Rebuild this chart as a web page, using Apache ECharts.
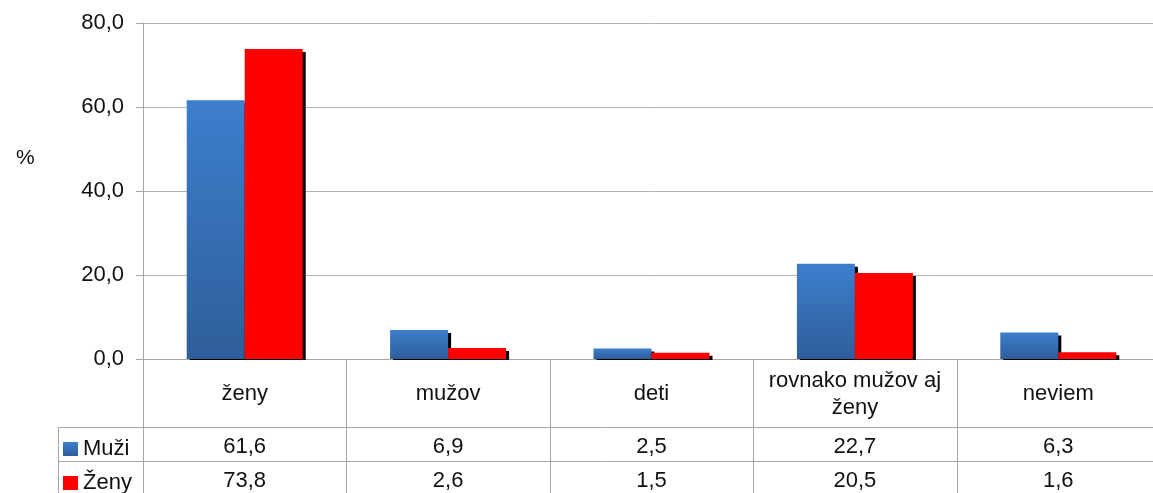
<!DOCTYPE html>
<html lang="sk">
<head>
<meta charset="UTF-8">
<title>Graf</title>
<script src="https://cdn.jsdelivr.net/npm/echarts@6/dist/echarts.min.js"></script>
<style>
  html, body { margin: 0; padding: 0; background: #fff; }
  #main { width: 1153px; height: 493px; }
</style>
</head>
<body>
<div id="main"></div>
<script>
// data
var categories = ['ženy', 'mužov', 'deti', 'rovnako mužov aj\nženy', 'neviem'];
var muzi = [61.6, 6.9, 2.5, 22.7, 6.3];
var zeny = [73.8, 2.6, 1.5, 20.5, 1.6];
var yTicks = [0, 20, 40, 60, 80];

function fmt(v) { return v.toFixed(1).replace('.', ','); }

var FONT = 'Liberation Sans';
var FS = 22;
var lineCol = '#a6a6a6';
var txt = '#111';

var blueGrad = new echarts.graphic.LinearGradient(0, 0, 0, 1, [
  { offset: 0, color: '#3d7ecd' },
  { offset: 1, color: '#2e5e9a' }
]);

function legendAt(name, top) {
  return {
    orient: 'vertical', left: 63, top: top, padding: 0,
    itemWidth: 15, itemHeight: 14, itemGap: 0,
    icon: 'rect',
    textStyle: { fontFamily: FONT, fontSize: FS, color: txt },
    data: [name]
  };
}

var option = {
  animation: false,
  textStyle: { fontFamily: FONT },
  title: {
    text: '%', left: 11, top: 143,
    textStyle: { fontFamily: FONT, fontSize: 21, fontWeight: 'normal', color: txt }
  },
  legend: [legendAt('Muži', 438), legendAt('Ženy', 472)],
  grid: { left: 143, width: 1017, top: 23, bottom: 134, outerBoundsMode: 'none', containLabel: false },
  xAxis: [
    {
      type: 'category', data: categories, position: 'bottom',
      axisLine: { lineStyle: { color: lineCol } },
      axisTick: { show: false },
      axisLabel: {
        margin: 35, verticalAlign: 'middle', fontSize: FS, lineHeight: 27,
        color: txt, fontFamily: FONT, interval: 0
      }
    },
    {
      type: 'category', data: muzi.map(fmt), position: 'bottom', offset: 68,
      axisLine: { show: false }, axisTick: { show: false },
      axisLabel: { margin: 20, verticalAlign: 'middle', fontSize: FS, color: txt, fontFamily: FONT, interval: 0 }
    },
    {
      type: 'category', data: zeny.map(fmt), position: 'bottom', offset: 102,
      axisLine: { show: false }, axisTick: { show: false },
      axisLabel: { margin: 20, verticalAlign: 'middle', fontSize: FS, color: txt, fontFamily: FONT, interval: 0 }
    }
  ],
  yAxis: {
    type: 'value', min: yTicks[0], max: yTicks[yTicks.length - 1], interval: 20,
    axisLine: { show: true, lineStyle: { color: lineCol } },
    axisTick: { show: true, length: 7, lineStyle: { color: lineCol } },
    axisLabel: { margin: 19, fontSize: FS, color: txt, fontFamily: FONT, formatter: fmt },
    splitLine: { lineStyle: { color: '#b3b3b3' } }
  },
  series: [
    {
      name: 'Muži', type: 'bar', data: muzi, barWidth: 58, barGap: '0%',
      itemStyle: { color: blueGrad, shadowColor: '#000', shadowOffsetX: 3, shadowOffsetY: 3, shadowBlur: 0 }
    },
    {
      name: 'Ženy', type: 'bar', data: zeny, barWidth: 58,
      itemStyle: { color: '#ff0000', shadowColor: '#000', shadowOffsetX: 3, shadowOffsetY: 3, shadowBlur: 0 }
    }
  ]
};

var myChart = echarts.init(document.getElementById('main'));
myChart.setOption(option);

// table lines: cover for bar shadows below the axis, row lines, column dividers
var g = [
  { type: 'rect', z: 100, shape: { x: 144, y: 360, width: 1010, height: 5 }, style: { fill: '#fff' } },
  { type: 'line', z: 101, shape: { x1: 58, y1: 427.5, x2: 1153, y2: 427.5 }, style: { stroke: lineCol, lineWidth: 1 } },
  { type: 'line', z: 101, shape: { x1: 58, y1: 461.5, x2: 1153, y2: 461.5 }, style: { stroke: lineCol, lineWidth: 1 } },
  { type: 'line', z: 101, shape: { x1: 58.5, y1: 427, x2: 58.5, y2: 493 }, style: { stroke: lineCol, lineWidth: 1 } },
  { type: 'line', z: 101, shape: { x1: 143.5, y1: 359, x2: 143.5, y2: 493 }, style: { stroke: lineCol, lineWidth: 1 } }
];
for (var i = 1; i < categories.length; i++) {
  var a = myChart.convertToPixel({ xAxisIndex: 0 }, i - 1);
  var b = myChart.convertToPixel({ xAxisIndex: 0 }, i);
  var x = Math.round((a + b) / 2) + 0.5;
  g.push({ type: 'line', z: 101, shape: { x1: x, y1: 359, x2: x, y2: 493 }, style: { stroke: lineCol, lineWidth: 1 } });
}
myChart.setOption({ graphic: g });
</script>
</body>
</html>
